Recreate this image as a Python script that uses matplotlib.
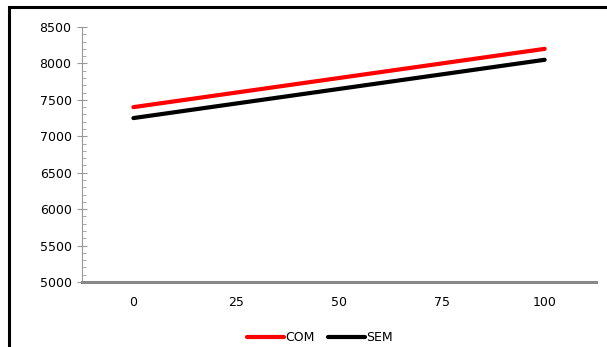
import matplotlib.pyplot as plt
from matplotlib.patches import Rectangle
from matplotlib.ticker import MultipleLocator

# values per dose level
categories = ["0", "25", "50", "75", "100"]
com_values = [7400, 7600, 7800, 8000, 8200]
sem_values = [7250, 7450, 7650, 7850, 8050]

fig = plt.figure(figsize=(6.07, 3.47), dpi=100)
ax = fig.add_axes([0.1351, 0.1873, 0.8469, 0.7349])

x = list(range(len(categories)))
ax.plot(x, com_values, color="#ff0000", linewidth=3, solid_capstyle="round", label="COM")
ax.plot(x, sem_values, color="#000000", linewidth=3, solid_capstyle="round", label="SEM")

ax.set_xlim(-0.5, len(categories) - 0.5)
ax.set_ylim(5000, 8500)
ax.set_xticks(x)
ax.set_xticklabels(categories)
ax.yaxis.set_major_locator(MultipleLocator(500))
ax.yaxis.set_minor_locator(MultipleLocator(100))

ax.spines["top"].set_visible(False)
ax.spines["right"].set_visible(False)
ax.spines["left"].set_color("#999999")
ax.spines["left"].set_linewidth(0.8)
ax.spines["bottom"].set_color("#888888")
ax.spines["bottom"].set_linewidth(2.2)

ax.tick_params(axis="y", which="major", direction="inout", length=7, color="#999999",
               labelsize=9, pad=4)
ax.tick_params(axis="y", which="minor", direction="in", length=3, color="#999999")
ax.tick_params(axis="x", length=0, labelsize=9, pad=10)

fig.legend(loc="lower center", bbox_to_anchor=(0.527, -0.025), ncol=2, frameon=False,
           fontsize=9, handlelength=3.0, handletextpad=0.1, columnspacing=1.0)

# outer frame around the chart
fig.patches.append(Rectangle((9 / 607, -0.1), 1.2, 1.1 - 7 / 347, transform=fig.transFigure,
                             fill=False, edgecolor="black", linewidth=2.2))

fig.savefig("out.png", dpi=100)
